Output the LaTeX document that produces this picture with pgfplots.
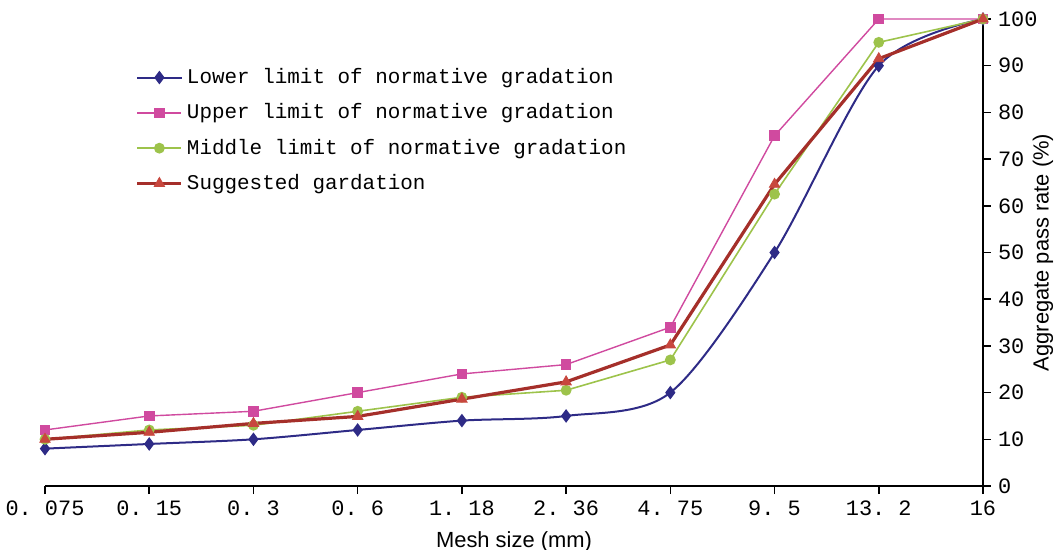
\documentclass[border=0pt]{standalone}
\usepackage{pgfplots}
\pgfplotsset{compat=1.18}
\usepackage{fontspec}
\setmainfont{Liberation Sans}
\newfontfamily\monofont{Liberation Mono}

\definecolor{lowc}{HTML}{2E2B86}
\definecolor{uppc}{HTML}{D04A9F}
\definecolor{midc}{HTML}{9DC34B}
\definecolor{sugc}{HTML}{A52F2A}
\definecolor{sugm}{HTML}{C8473E}

\begin{document}
\begin{tikzpicture}
\begin{axis}[
    scale only axis,
    width=469bp, height=233.5bp,
    xmin=0, xmax=9, ymin=0, ymax=100,
    axis x line=bottom, axis y line=right,
    axis line style={-, line width=0.9pt},
    xtick={0,...,9},
    xticklabels={0.\ 075, 0.\ 15, 0.\ 3, 0.\ 6, 1.\ 18, 2.\ 36, 4.\ 75, 9.\ 5, 13.\ 2, 16},
    ytick={0,10,...,100},
    /pgf/number format/assume math mode=true,
    tick align=outside,
    major tick length=4bp,
    tick style={black, line width=0.8pt},
    tick label style={font=\monofont\fontsize{11}{13}\selectfont},
    xlabel={Mesh size (mm)},
    ylabel={Aggregate pass rate (\%)},
    label style={font=\fontsize{11}{13}\selectfont},
    xlabel style={yshift=-1bp},
    ylabel style={at={(axis description cs:1.064,0.5)}, anchor=center},
    legend style={draw=none, fill=none, at={(0.09,0.912)}, anchor=north west,
        font=\monofont\fontsize{10.5}{12}\selectfont, row sep=4.6bp},
    legend cell align=left,
    legend image code/.code={%
        \draw[mark repeat=2, mark phase=2, #1] plot coordinates {(0bp,0bp) (11bp,0bp) (22bp,0bp)};},
]
\addplot[lowc, line width=1bp, smooth, mark=diamond*, mark size=2.6bp, mark options={solid, fill=lowc}]
  coordinates {(0,8) (1,9) (2,10) (3,12) (4,14) (5,15) (6,20) (7,50) (8,90) (9,100)};
\addlegendentry{Lower limit of normative gradation}
\addplot[uppc, line width=0.7bp, mark=square*, mark size=2.3bp, mark options={solid, fill=uppc}]
  coordinates {(0,12) (1,15) (2,16) (3,20) (4,24) (5,26) (6,34) (7,75) (8,100) (9,100)};
\addlegendentry{Upper limit of normative gradation}
\addplot[midc, line width=0.8bp, mark=*, mark size=2.3bp, mark options={solid, fill=midc}]
  coordinates {(0,10) (1,12) (2,13) (3,16) (4,19) (5,20.5) (6,27) (7,62.5) (8,95) (9,100)};
\addlegendentry{Middle limit of normative gradation}
\addplot[sugc, line width=1.6bp, mark=triangle*, mark size=3bp, mark options={solid, fill=sugm, draw=sugm, line width=0.4bp}]
  coordinates {(0,10) (1,11.5) (2,13.4) (3,14.9) (4,18.6) (5,22.3) (6,30.2) (7,64.6) (8,91.5) (9,100)};
\addlegendentry{Suggested gardation}
\end{axis}
\pgfresetboundingbox
\path (-22.5bp,-32bp) rectangle (506bp,243bp);
\end{tikzpicture}
\end{document}
